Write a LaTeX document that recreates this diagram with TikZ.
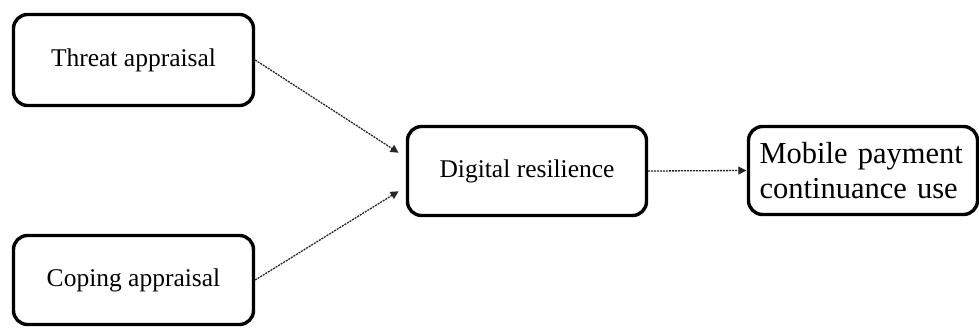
\documentclass[tikz,border=0pt]{standalone}
\usepackage{fontspec}
\setmainfont{Liberation Serif}
\usetikzlibrary{arrows.meta}
\begin{document}
\begin{tikzpicture}[x=1pt,y=-1pt,
  box/.style={draw=black,line width=3.4pt,rounded corners=14pt,inner sep=0pt,
    font=\fontsize{25.5}{30}\selectfont,text=black},
  link/.style={draw=black!85,line width=1.3pt,dash pattern=on 2pt off 1pt,
    -{Triangle[length=8pt,width=8pt]},shorten >=0.5pt}]
\useasboundingbox (0,0) rectangle (979,327);
\node[box,minimum width=240pt,minimum height=91pt] (threat) at (133.5,60) {Threat appraisal};
\node[box,minimum width=240pt,minimum height=89pt] (coping) at (133.5,280) {Coping appraisal};
\node[box,minimum width=239pt,minimum height=89pt] (digital) at (527,171) {Digital resilience};
\node[box,minimum width=229pt,minimum height=88pt,align=left,text width=207pt,inner xsep=11pt,
  font=\fontsize{30.5}{35}\selectfont] (mobile) at (863,170.5) {Mobile payment\\continuance use};
\coordinate (t1) at (399,153);
\coordinate (c1) at (399,191);
\draw[link] (threat.east) -- (t1);
\draw[link] (coping.east) -- (c1);
\draw[link] (digital.east) -- (mobile.west);
\end{tikzpicture}
\end{document}
